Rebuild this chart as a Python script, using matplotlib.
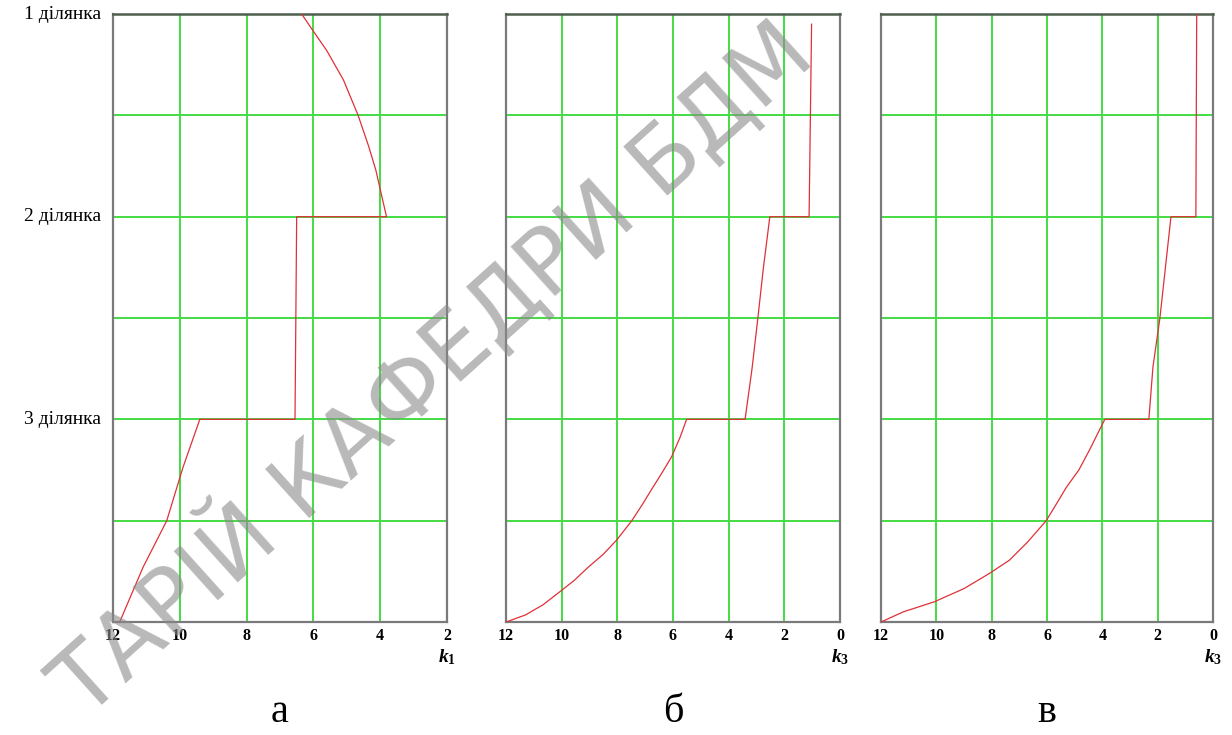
import matplotlib
matplotlib.use("Agg")
import matplotlib.pyplot as plt

plt.rcParams['font.family'] = ['Liberation Serif', 'DejaVu Serif']
plt.rcParams['mathtext.fontset'] = 'custom'
plt.rcParams['mathtext.it'] = 'Liberation Serif:italic:bold'
plt.rcParams['mathtext.rm'] = 'Liberation Serif:bold'

# depth along the section: 0 = 1 ділянка, 2 = 2 ділянка, 4 = 3 ділянка, 6 = end
a_k = [6.35, 6.0, 5.6, 5.1, 4.66, 4.35, 4.13, 3.95, 3.81,
       6.5, 6.55,
       9.4, 9.9, 10.39, 11.1, 11.8]
a_depth = [0.0, 0.17, 0.36, 0.65, 1.0, 1.3, 1.54, 1.8, 2.0,
           2.0, 4.0,
           4.0, 4.47, 5.0, 5.46, 6.0]

b_k = [1.02, 1.11,
       2.52, 2.75, 2.95, 3.16, 3.41,
       5.51, 5.75, 6.05, 6.4, 6.72, 7.1, 7.48, 8.02, 8.5, 9.05, 9.55,
       10.06, 10.67, 11.3, 12.0]
b_depth = [0.1, 2.0,
           2.0, 2.5, 3.0, 3.5, 4.0,
           4.0, 4.18, 4.37, 4.53, 4.67, 4.84, 5.0, 5.19, 5.33, 5.46, 5.59,
           5.7, 5.83, 5.93, 6.0]

c_k = [0.59, 0.62,
       1.52, 1.72, 1.92, 2.05, 2.17, 2.32,
       3.91, 4.15, 4.46, 4.85, 5.3, 5.65, 6.03, 6.7, 7.36, 8.08, 9.0,
       10.07, 11.2, 12.0]
c_depth = [0.0, 2.0,
           2.0, 2.5, 3.0, 3.25, 3.48, 4.0,
           4.0, 4.13, 4.3, 4.5, 4.67, 4.83, 5.0, 5.21, 5.39, 5.52, 5.67,
           5.8, 5.9, 6.0]

section_ticks = [0, 2, 4]
section_labels = ["1 ділянка", "2 ділянка", "3 ділянка"]

panels = [
    (a_k, a_depth, 2, "$k_1$", "а", [0.0917, 0.1537, 0.2711, 0.8272]),
    (b_k, b_depth, 0, "$k_3$", "б", [0.4107, 0.1537, 0.2711, 0.8272]),
    (c_k, c_depth, 0, "$k_3$", "в", [0.7151, 0.1537, 0.2695, 0.8272]),
]

fig = plt.figure(figsize=(12.32, 7.35), dpi=100)

for i, (k, depth, k_min, k_name, letter, pos) in enumerate(panels):
    ax = fig.add_axes(pos)
    ax.plot(k, depth, color='#e03038', linewidth=0.9, zorder=3)
    ax.set_xlim(12, k_min)
    ax.set_ylim(6, 0)
    ax.set_xticks(range(12, k_min - 1, -2))
    ax.set_yticks(range(0, 7))
    ax.grid(color='#44dc44', linewidth=1.4)
    ax.tick_params(length=0, pad=4, labelsize=11.5)
    for lab in ax.get_xticklabels():
        lab.set_fontweight('bold')
    ax.set_yticklabels([])
    if i == 0:
        for t, s in zip(section_ticks, section_labels):
            ax.text(-0.035, 1 - t / 6, s, transform=ax.transAxes, ha='right',
                    va='center', fontsize=14)
    for side in ['left', 'right', 'bottom']:
        ax.spines[side].set_color('#7a7a7a')
        ax.spines[side].set_linewidth(1.6)
    ax.spines['top'].set_color('#4e5e4e')
    ax.spines['top'].set_linewidth(1.8)
    ax.text(1.0, -0.058, k_name, transform=ax.transAxes, ha='center',
            va='center', fontsize=14)
    ax.text(0.5, -0.148, letter, transform=ax.transAxes, ha='center',
            va='center', fontsize=29)

fig.text(0.35, 1 - 368 / 735, "ТАРІЙ КАФЕДРИ БДМ", rotation=42,
         ha='center', va='center', rotation_mode='anchor', fontsize=65,
         family='DejaVu Sans', color='#8a8a8a', alpha=0.6, zorder=10)

fig.savefig("out.png", dpi=100)
